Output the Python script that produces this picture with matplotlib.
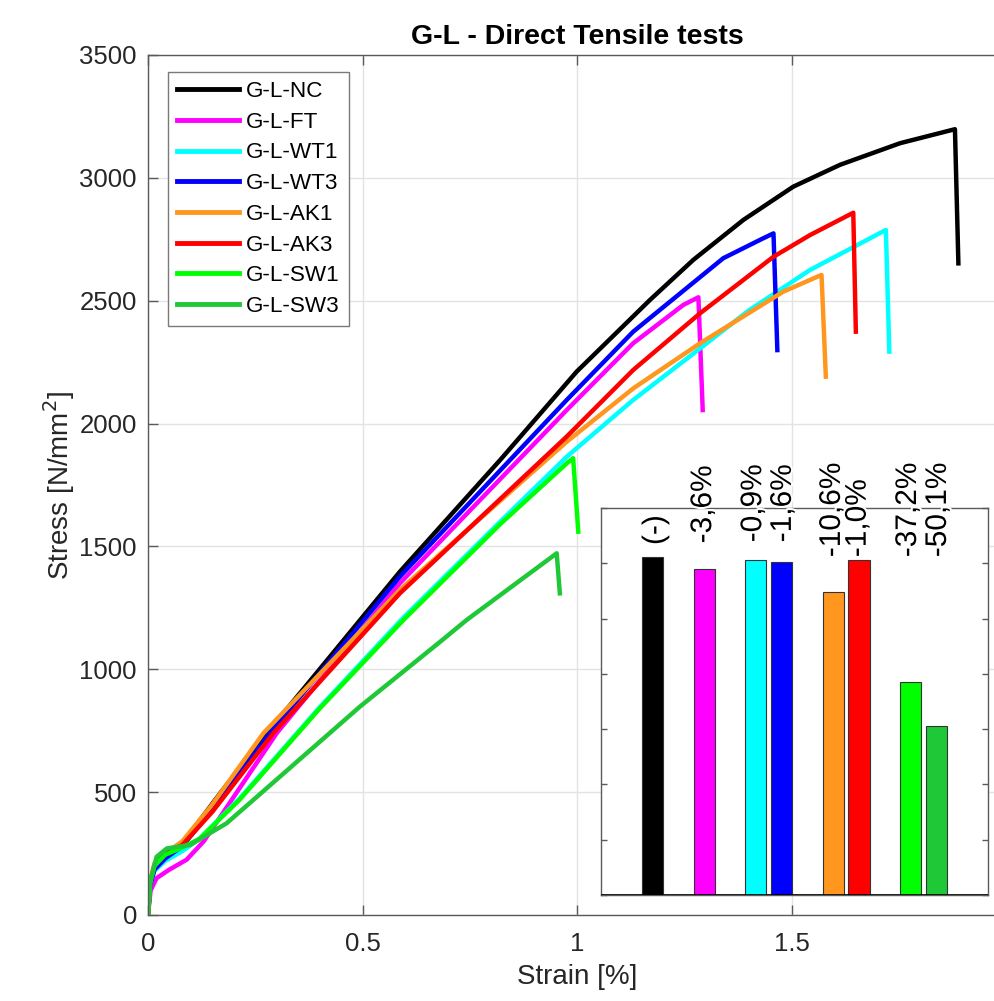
import matplotlib
matplotlib.use("Agg")
import matplotlib.pyplot as plt
import matplotlib.patheffects as pe
import numpy as np

plt.rcParams["font.family"] = ["Liberation Sans", "DejaVu Sans"]

# stress-strain curves (strain in %, stress in N/mm2)
labels = ["G-L-NC", "G-L-FT", "G-L-WT1", "G-L-WT3", "G-L-AK1", "G-L-AK3", "G-L-SW1", "G-L-SW3"]
colors = ["#000000", "#FF00FF", "#00FFFF", "#0000FF", "#FF961E", "#FF0000", "#00FF00", "#1FC837"]

nc_strain = [0, 0.005, 0.015, 0.04, 0.08, 0.168, 0.277, 0.587, 0.821, 0.999, 1.170, 1.271, 1.388, 1.504, 1.613, 1.753, 1.881, 1.889]
nc_stress = [0, 120, 190, 235, 290, 495, 739, 1397, 1852, 2211, 2503, 2666, 2829, 2964, 3053, 3141, 3198, 2652]

ft_strain = [0, 0.006, 0.02, 0.05, 0.09, 0.13, 0.30, 0.587, 0.976, 1.131, 1.248, 1.283, 1.293]
ft_stress = [0, 100, 150, 185, 225, 300, 740, 1350, 2055, 2327, 2483, 2514, 2055]

wt1_strain = [0, 0.005, 0.015, 0.04, 0.08, 0.12, 0.214, 0.40, 0.595, 0.8205, 0.976, 1.131, 1.287, 1.40, 1.543, 1.720, 1.728]
wt1_stress = [0, 120, 180, 220, 260, 310, 475, 845, 1210, 1600, 1865, 2096, 2306, 2460, 2625, 2788, 2293]

wt3_strain = [0, 0.005, 0.015, 0.04, 0.08, 0.15, 0.284, 0.587, 0.976, 1.131, 1.341, 1.434, 1.458, 1.467]
wt3_stress = [0, 120, 185, 230, 280, 430, 740, 1377, 2096, 2374, 2673, 2754, 2774, 2299]

ak1_strain = [0, 0.005, 0.015, 0.04, 0.08, 0.15, 0.269, 0.587, 0.976, 1.131, 1.287, 1.481, 1.570, 1.580]
ak1_stress = [0, 140, 210, 250, 300, 450, 740, 1323, 1926, 2143, 2327, 2537, 2605, 2191]

ak3_strain = [0, 0.005, 0.015, 0.04, 0.08, 0.15, 0.292, 0.587, 0.976, 1.131, 1.287, 1.458, 1.543, 1.644, 1.650]
ak3_stress = [0, 130, 200, 250, 285, 420, 740, 1309, 1947, 2218, 2449, 2679, 2767, 2858, 2374]

sw1_strain = [0, 0.005, 0.015, 0.04, 0.08, 0.12, 0.214, 0.40, 0.595, 0.8205, 0.976, 0.991, 1.003]
sw1_stress = [0, 130, 200, 245, 275, 310, 470, 840, 1200, 1590, 1838, 1859, 1560]

sw3_strain = [0, 0.004, 0.02, 0.044, 0.098, 0.183, 0.263, 0.494, 0.681, 0.743, 0.9527, 0.960]
sw3_stress = [0, 129, 237, 271, 285, 373, 495, 848, 1112, 1201, 1472, 1309]

curves = [
    (nc_strain, nc_stress), (ft_strain, ft_stress), (wt1_strain, wt1_stress), (wt3_strain, wt3_stress),
    (ak1_strain, ak1_stress), (ak3_strain, ak3_stress), (sw1_strain, sw1_stress), (sw3_strain, sw3_stress),
]

# inset bar chart
bar_pos = [0, 2, 4, 5, 7, 8, 10, 11]
bar_vals = [3060, 2950, 3032, 3011, 2736, 3029, 1922, 1527]
bar_texts = ["(-)", "-3,6%", "-0,9%", "-1,6%", "-10,6%", "-1,0%", "-37,2%", "-50,1%"]
text_x = [0.1, 1.96, 3.9, 5.05, 6.95, 7.95, 9.9, 11.06]
text_y = [3165, 3180, 3190, 3190, 3055, 3055, 3055, 3055]

AX_GRAY = "#5a5a5a"
TXT = "#262626"

fig = plt.figure(figsize=(9.94, 10.01), dpi=100)
ax = fig.add_axes([148 / 994, 86 / 1001, 858 / 994, 860 / 1001])

for (x, y), lab, c in zip(curves, labels, colors):
    ax.plot(x, y, color=c, linewidth=3.2, label=lab, solid_joinstyle="round")

ax.set_xlim(0, 2)
ax.set_ylim(0, 3500)
ax.set_xticks([0, 0.5, 1, 1.5])
ax.set_xticklabels(["0", "0.5", "1", "1.5"])
ax.set_yticks(np.arange(0, 3501, 500))
ax.grid(True, color="#e3e3e3", linewidth=1)
ax.set_axisbelow(True)
ax.tick_params(direction="in", length=7, width=1, top=True, right=True,
               labelsize=18.5, colors=AX_GRAY, labelcolor=TXT, pad=8)
ax.tick_params(axis="x", pad=12)
for s in ax.spines.values():
    s.set_color(AX_GRAY)
    s.set_linewidth(1)

ax.set_title("G-L - Direct Tensile tests", fontsize=20.5, fontweight="bold", pad=8)
ax.set_xlabel("Strain [%]", fontsize=20, color=TXT, labelpad=6)
ax.set_ylabel("Stress [N/mm$^2$]", fontsize=20, color=TXT, labelpad=2)

leg = ax.legend(loc="upper left", bbox_to_anchor=(0.0233, 0.9806), borderaxespad=0,
                fontsize=16.2, fancybox=False, framealpha=1, edgecolor="#7a7a7a",
                handlelength=2.75, handletextpad=0.3, labelspacing=0.43, borderpad=0.42)
leg.get_frame().set_linewidth(1)
for line in leg.get_lines():
    line.set_linewidth(3.5)

# inset
ins = fig.add_axes([601 / 994, 106 / 1001, 387 / 994, 387 / 1001])
ins.bar(bar_pos, bar_vals, width=0.82, color=colors, edgecolor="#333333", linewidth=0.8, zorder=3)
ins.axhline(0, color="k", linewidth=1.2, zorder=4)
ins.set_xlim(-2, 13)
ins.set_ylim(0, 3500)
ins.set_xticks([])
ins.set_yticks(np.arange(0, 3501, 500))
ins.set_yticklabels([])
ins.tick_params(axis="y", direction="in", length=4, width=1, right=True, colors=AX_GRAY)
for s in ins.spines.values():
    s.set_color(AX_GRAY)
    s.set_linewidth(1)

for xp, yp, t in zip(text_x, text_y, bar_texts):
    ins.text(xp, yp, t, rotation=90, ha="center", va="bottom", fontsize=21.5, color="k",
             clip_on=False, zorder=5,
             path_effects=[pe.withStroke(linewidth=3, foreground="white")])

fig.savefig("out.png", dpi=100)
